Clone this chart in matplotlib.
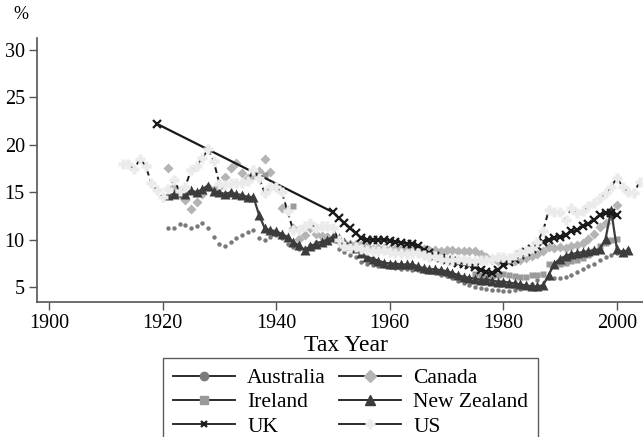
import matplotlib
matplotlib.use("Agg")
import matplotlib.pyplot as plt
from matplotlib.lines import Line2D
import numpy as np

plt.rcParams['font.family'] = ['Liberation Serif', 'DejaVu Serif']

# top income shares, %
aus_years = np.arange(1921, 2003)
aus_vals = [11.2, 11.2, 11.7, 11.6, 11.2, 11.4, 11.8, 11.2, 10.3, 9.6,
            9.3, 9.8, 10.2, 10.5, 10.8, 11.0, 10.2, 10.0, 10.3, 10.5,
            10.2, 9.6, 9.2, 9.0, 9.1, 9.4, 9.8, 10.2, 10.5, 10.4,
            9.0, 8.7, 8.4, 8.2, 7.7, 7.5, 7.3, 7.2, 7.2, 7.1,
            7.0, 6.9, 6.9, 6.8, 6.8, 6.7, 6.6, 6.5, 6.3, 6.2,
            6.0, 5.7, 5.4, 5.2, 5.0, 4.9, 4.8, 4.7, 4.7, 4.6,
            4.6, 4.7, 4.8, 5.0, 5.3, 5.8, 6.3, 6.0, 6.0, 6.0,
            6.1, 6.3, 6.6, 6.9, 7.2, 7.5, 7.9, 8.2, 8.4, 8.6,
            8.8, 9.0]

can_years = np.arange(1921, 2001)
can_vals = [17.6, 15.5, 14.8, 14.2, 13.2, 14.0, 14.8, 15.5, 15.2, 15.5,
            16.6, 17.6, 18.1, 17.0, 16.5, 16.8, 17.2, 18.5, 17.1, 15.5,
            13.3, 13.1, 11.2, 10.1, 10.5, 11.2, 10.6, 10.4, 10.3, 10.2,
            9.9, 9.7, 9.5, 9.5, 9.4, 9.3, 9.0, 9.1, 9.1, 9.0,
            9.0, 9.0, 8.9, 9.0, 9.1, 9.0, 8.9, 8.9, 8.8, 8.9,
            8.9, 8.8, 8.8, 8.8, 8.8, 8.5, 8.2, 7.9, 7.8, 8.0,
            7.9, 7.8, 7.9, 8.1, 8.3, 8.5, 8.8, 9.2, 9.1, 9.2,
            9.1, 9.3, 9.4, 9.7, 10.1, 10.6, 11.3, 11.8, 12.5, 13.7]

irl_years = [1938, 1943] + list(range(1975, 2001))
irl_vals = [16.8, 13.5,
            6.4, 6.3, 6.1, 6.2, 6.3, 6.4, 6.3, 6.2, 6.1, 6.1,
            6.3, 6.3, 6.4, 7.5, 7.3, 7.4, 7.6, 7.8, 7.9, 8.1,
            8.4, 8.8, 9.3, 9.7, 10.0, 10.1]

nz_years = np.arange(1921, 2003)
nz_vals = [14.7, 14.8, 15.0, 14.8, 15.2, 15.0, 15.3, 15.7, 15.1, 15.0,
           14.8, 15.0, 14.8, 14.7, 14.5, 14.5, 12.6, 11.2, 11.0, 10.9,
           10.6, 10.3, 9.8, 9.4, 8.9, 9.3, 9.6, 9.8, 10.0, 10.3,
           10.2, 9.8, 9.4, 9.1, 8.6, 8.2, 8.0, 7.8, 7.6, 7.5,
           7.5, 7.4, 7.4, 7.4, 7.2, 7.0, 6.9, 6.9, 6.8, 6.7,
           6.5, 6.3, 6.1, 6.0, 5.9, 5.8, 5.8, 5.7, 5.6, 5.6,
           5.5, 5.4, 5.3, 5.2, 5.1, 5.1, 5.2, 6.3, 7.5, 8.0,
           8.3, 8.5, 8.6, 8.7, 8.8, 8.9, 9.0, 10.1, 13.1, 9.0,
           8.7, 8.9]

uk_years = [1919] + list(range(1950, 2001))
uk_vals = [22.2,
           12.9, 12.3, 11.8, 11.2, 10.7, 10.2, 10.0, 10.0, 10.0, 10.0,
           9.9, 9.8, 9.7, 9.6, 9.6, 9.3, 8.9, 8.6, 8.3, 8.1,
           7.9, 7.8, 7.6, 7.5, 7.3, 7.1, 6.8, 6.6, 6.5, 6.8,
           7.3, 7.7, 8.0, 8.4, 8.7, 9.0, 9.3, 9.8, 10.0, 10.2,
           10.3, 10.5, 10.9, 11.0, 11.4, 11.7, 12.1, 12.6, 12.8, 12.8,
           12.6]

us_years = np.arange(1913, 2005)
us_vals = [18.0, 18.0, 17.4, 18.5, 17.8, 16.0, 15.2, 14.5,
           15.3, 16.3, 15.1, 15.6, 17.3, 17.8, 18.6, 19.5, 18.3, 15.9,
           15.8, 16.0, 16.0, 16.0, 16.2, 17.3, 16.5, 14.9, 15.6, 15.6,
           15.0, 13.0, 11.0, 11.0, 11.4, 11.8, 11.2, 11.4, 11.4, 11.2,
           10.0, 9.3, 9.1, 9.2, 9.0, 8.9, 8.8, 8.8, 8.9, 8.7,
           8.6, 8.6, 8.5, 8.6, 8.6, 8.4, 8.2, 8.3, 8.0, 7.9,
           7.9, 8.0, 7.9, 7.8, 7.8, 7.9, 7.9, 8.0, 8.2, 8.2,
           8.1, 8.4, 8.6, 8.8, 9.1, 9.8, 10.9, 13.1, 12.9, 12.9,
           12.1, 13.3, 12.8, 13.0, 13.6, 13.9, 14.4, 14.9, 15.6, 16.5,
           15.6, 15.0, 14.9, 16.1]

fig = plt.figure(figsize=(6.43, 4.37), dpi=100)
ax = fig.add_axes([0.058, 0.3096, 0.942, 0.6028])

ax.plot(aus_years, aus_vals, linestyle='none', marker='o', ms=3.2,
        color='#7a7a7a', mec='none')
ax.plot(can_years, can_vals, linestyle='none', marker='D', ms=4.8,
        color='#b4b4b4', mec='none')
ax.plot(irl_years, irl_vals, linestyle='none', marker='s', ms=4.6,
        color='#9a9a9a', mec='none')
ax.plot(nz_years, nz_vals, linestyle='-', lw=1.6, marker='^', ms=6.5,
        color='#3c3c3c', mec='none')
ax.plot(uk_years, uk_vals, linestyle='-', lw=1.6, marker='x', ms=5.5,
        mew=1.6, color='#1a1a1a')
ax.plot(us_years, us_vals, linestyle='none', marker='P', ms=7.5,
        color='#ebebeb', mec='none', zorder=3)
ax.plot(us_years, us_vals, linestyle=(0, (3, 2)), lw=1.4,
        color='#1a1a1a', zorder=2.9)

ax.set_xlim(1897.94, 2004.6)
ax.set_ylim(3.48, 31.2)
ax.set_xticks([1900, 1920, 1940, 1960, 1980, 2000])
ax.set_yticks([5, 10, 15, 20, 25, 30])

for s in ['top', 'right']:
    ax.spines[s].set_visible(False)
for s in ['left', 'bottom']:
    ax.spines[s].set_color('#555555')
    ax.spines[s].set_linewidth(1.2)
ax.tick_params(direction='out', length=6, width=1.0, color='#555555',
               labelsize=14.5, pad=3)

fig.text(0.032, 0.967, '%', fontsize=13, ha='center', va='center')
fig.text(0.538, 0.209, 'Tax Year', fontsize=17, ha='center', va='center')

h_aus = Line2D([], [], color='#1a1a1a', lw=1.3, marker='o', ms=6,
               mfc='#7a7a7a', mec='#7a7a7a')
h_can = Line2D([], [], color='#1a1a1a', lw=1.3, marker='D', ms=6,
               mfc='#b4b4b4', mec='#b4b4b4')
h_irl = Line2D([], [], color='#1a1a1a', lw=1.3, marker='s', ms=6,
               mfc='#9a9a9a', mec='#9a9a9a')
h_nz = Line2D([], [], color='#1a1a1a', lw=1.3, marker='^', ms=6.5,
              mfc='#3c3c3c', mec='#3c3c3c')
h_uk = Line2D([], [], color='#1a1a1a', lw=1.3, marker='x', ms=5,
              mew=1.6, mec='#1a1a1a')
h_us = Line2D([], [], color='#1a1a1a', lw=1.3, marker='P', ms=6.5,
              mfc='#ebebeb', mec='none')
# legend fills column by column, so order for row-wise reading
handles = [h_aus, h_irl, h_uk, h_can, h_nz, h_us]
labels = ['Australia', 'Ireland', 'UK', 'Canada', 'New Zealand', 'US']
leg = fig.legend(handles, labels, ncol=2, loc='upper left',
                 bbox_to_anchor=(163.3 / 643, 1 - 358.3 / 437),
                 fontsize=15.5, frameon=True, fancybox=False,
                 edgecolor='#333333', handlelength=2.9, handletextpad=0.55,
                 columnspacing=0.6, borderpad=0.45, labelspacing=0.2,
                 borderaxespad=0)
leg.get_frame().set_linewidth(1.0)

fig.savefig('out.png', dpi=100)
